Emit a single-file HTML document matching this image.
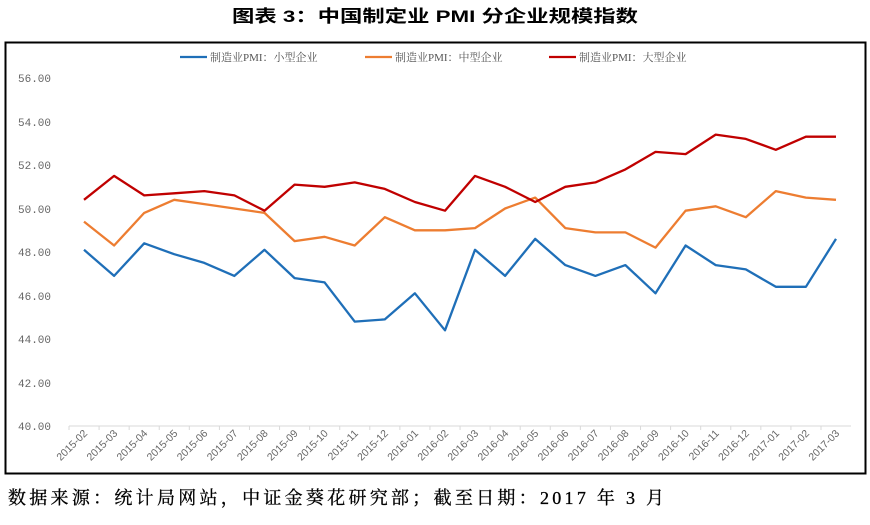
<!DOCTYPE html>
<html><head><meta charset="utf-8"><style>
body{margin:0;background:#fff;width:870px;height:520px;overflow:hidden;font-family:"Liberation Sans","Noto Sans CJK SC",sans-serif}
</style></head><body>
<svg width="870" height="520" xmlns="http://www.w3.org/2000/svg">
<text x="232" y="22" textLength="406" lengthAdjust="spacingAndGlyphs" font-size="17" font-weight="bold" font-family="'Liberation Sans','Noto Sans CJK SC',sans-serif" fill="#000">图表  3：中国制定业 PMI 分企业规模指数</text>
<rect x="5.5" y="42.5" width="860" height="431" fill="#fff" stroke="#000" stroke-width="2"/>
<g font-family="'Liberation Mono','DejaVu Sans Mono',monospace" font-size="11" fill="#666">
<text x="18" y="82">56.00</text><text x="18" y="126">54.00</text><text x="18" y="169">52.00</text><text x="18" y="213">50.00</text><text x="18" y="256">48.00</text><text x="18" y="300">46.00</text><text x="18" y="343">44.00</text><text x="18" y="387">42.00</text><text x="18" y="430">40.00</text>
</g>
<line x1="69" y1="426" x2="851" y2="426" stroke="#d9d9d9"/>
<g id="ticks" stroke="#d9d9d9"></g>
<g id="xl" font-family="'Liberation Sans',sans-serif" font-size="10.5" fill="#666"></g>
<g id="lines" fill="none" stroke-width="2.3" stroke-linejoin="round"></g>
<g font-family="'Liberation Serif','Noto Serif CJK SC',serif" font-size="11" fill="#555">
<line x1="180" y1="57" x2="207" y2="57" stroke="#1f6fb8" stroke-width="2.3"/><text x="210" y="61">制造业PMI：小型企业</text>
<line x1="365" y1="57" x2="392" y2="57" stroke="#ed7d31" stroke-width="2.3"/><text x="395" y="61">制造业PMI：中型企业</text>
<line x1="549" y1="57" x2="576" y2="57" stroke="#c00000" stroke-width="2.3"/><text x="579" y="61">制造业PMI：大型企业</text>
</g>
<text x="8" y="504" textLength="656" lengthAdjust="spacing" font-size="18" font-family="'Liberation Serif','Noto Serif CJK SC',serif" fill="#000" stroke="#000" stroke-width="0.3">数据来源：统计局网站，中证金葵花研究部；截至日期：2017 年 3 月</text>
</svg>
<script>
var s=[48.1,46.9,48.4,47.9,47.5,46.9,48.1,46.8,46.6,44.8,44.9,46.1,44.4,48.1,46.9,48.6,47.4,46.9,47.4,46.1,48.3,47.4,47.2,46.4,46.4,48.6];
var m=[49.4,48.3,49.8,50.4,50.2,50.0,49.8,48.5,48.7,48.3,49.6,49.0,49.0,49.1,50.0,50.5,49.1,48.9,48.9,48.2,49.9,50.1,49.6,50.8,50.5,50.4];
var l=[50.4,51.5,50.6,50.7,50.8,50.6,49.9,51.1,51.0,51.2,50.9,50.3,49.9,51.5,51.0,50.3,51.0,51.2,51.8,52.6,52.5,53.4,53.2,52.7,53.3,53.3];
var labs=[];for(var y=2015;y<=2017;y++)for(var mo=1;mo<=12;mo++){labs.push(y+'-'+(mo<10?'0':'')+mo);}
labs=labs.slice(1,27);
function X(i){return 84+i*30.08}function Y(v){return 426-(v-40)*21.75}
var NS='http://www.w3.org/2000/svg',L=document.getElementById('lines'),XL=document.getElementById('xl'),T=document.getElementById('ticks');
[[s,'#1f6fb8'],[m,'#ed7d31'],[l,'#c00000']].forEach(function(a){var p=document.createElementNS(NS,'polyline');p.setAttribute('points',a[0].map(function(v,i){return X(i).toFixed(1)+','+Y(v).toFixed(1)}).join(' '));p.setAttribute('stroke',a[1]);L.appendChild(p);});
for(var i=0;i<26;i++){var t=document.createElementNS(NS,'text');t.setAttribute('text-anchor','end');t.setAttribute('transform','translate('+(X(i)+4)+',434) rotate(-45)');t.textContent=labs[i];XL.appendChild(t);
var k=document.createElementNS(NS,'line');var xx=X(i)-15;k.setAttribute('x1',xx);k.setAttribute('x2',xx);k.setAttribute('y1',426);k.setAttribute('y2',430);T.appendChild(k);}
</script>
</body></html>
